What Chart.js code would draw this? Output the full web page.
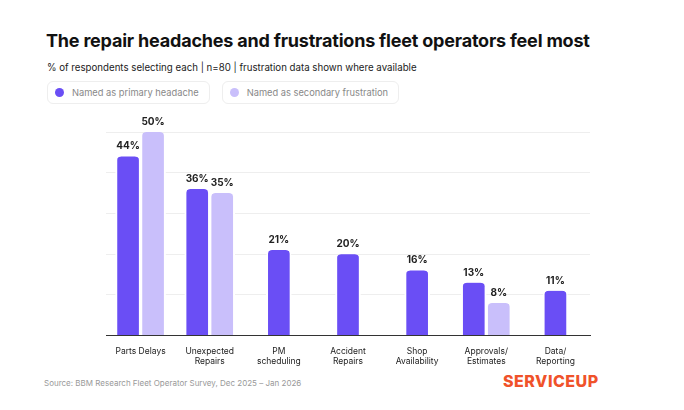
<!DOCTYPE html>
<html>
<head>
<meta charset="utf-8">
<script src="https://cdn.jsdelivr.net/npm/chart.js@4"></script>
<style>
  body { margin: 0; background: #fff; font-family: Inter, "Noto Sans", sans-serif; }
  #wrap { position: relative; width: 684px; height: 410px; }
  h1 { position: absolute; left: 46px; top: 30px; margin: 0; font-size: 18px; font-weight: 700; color: #111; letter-spacing: -0.2px; }
  .sub { position: absolute; left: 47px; top: 62px; font-size: 9.7px; color: #222; }
  .legend { position: absolute; top: 81px; left: 47px; display: flex; gap: 12px; }
  .item { border: 1px solid #eee; border-radius: 6px; padding: 5px 10px 5px 7px; font-size: 9.3px; color: #888; display: flex; align-items: center; }
  .dot { width: 9px; height: 9px; border-radius: 50%; margin-right: 8px; }
  .src { position: absolute; left: 44px; top: 378px; font-size: 8px; color: #999; }
  .logo { position: absolute; left: 503px; top: 371px; font-size: 16px; font-weight: 800; color: #f0522a; letter-spacing: 0.5px; }
  #box { position: absolute; left: 40px; top: 112px; width: 600px; height: 258px; }
</style>
</head>
<body>
<div id="wrap">
  <h1>The repair headaches and frustrations fleet operators feel most</h1>
  <div class="sub">% of respondents selecting each | n=80 | frustration data shown where available</div>
  <div class="legend">
    <div class="item"><span class="dot" style="background:#6a4ef5"></span>Named as primary headache</div>
    <div class="item"><span class="dot" style="background:#c9bffb"></span>Named as secondary frustration</div>
  </div>
  <div id="box"><canvas id="chart"></canvas></div>
  <div class="src">Source: BBM Research Fleet Operator Survey, Dec 2025 – Jan 2026</div>
  <div class="logo">SERVICEUP</div>
</div>
<script>
const categories = [["Parts Delays"], ["Unexpected", "Repairs"], ["PM", "scheduling"], ["Accident", "Repairs"], ["Shop", "Availability"], ["Approvals/", "Estimates"], ["Data/", "Reporting"]];
const primary = [44, 36, 21, 20, 16, 13, 11];
const secondary = [50, 35, null, null, null, 8, null];

// labels above bars
const valueLabels = {
  id: "valueLabels",
  afterDatasetsDraw(chart) {
    const ctx = chart.ctx;
    ctx.save();
    ctx.font = "bold 10px Inter, sans-serif";
    ctx.fillStyle = "#222";
    ctx.textAlign = "center";
    chart.data.datasets.forEach((ds, i) => {
      chart.getDatasetMeta(i).data.forEach((bar, j) => {
        if (ds.data[j] == null) return;
        ctx.fillText(ds.data[j] + "%", bar.x, bar.y - 7);
      });
    });
    ctx.restore();
  }
};

const barStyle = {
  borderRadius: { topLeft: 6, topRight: 6 },
  borderSkipped: "bottom",
  borderColor: "#fff",
  borderWidth: { left: 2, right: 2, top: 0 }
};

new Chart(document.getElementById("chart"), {
  type: "bar",
  data: {
    labels: categories,
    datasets: [
      Object.assign({ data: primary, backgroundColor: "#6a4ef5" }, barStyle),
      Object.assign({ data: secondary, backgroundColor: "#c9bffb" }, barStyle)
    ]
  },
  options: {
    responsive: true,
    maintainAspectRatio: false,
    animation: false,
    skipNull: true,
    barThickness: 25,
    layout: { padding: { left: 66, right: 50, top: 20 } },
    plugins: { legend: { display: false }, tooltip: { enabled: false } },
    scales: {
      x: {
        grid: { display: false },
        border: { color: "#333" },
        ticks: { color: "#222", font: { size: 8.5, family: "Inter" }, maxRotation: 0 }
      },
      y: {
        min: 0, max: 50,
        ticks: { display: false, stepSize: 10 },
        border: { display: false },
        grid: { color: "#eeeeee", drawTicks: false }
      }
    }
  },
  plugins: [valueLabels]
});
</script>
</body>
</html>
